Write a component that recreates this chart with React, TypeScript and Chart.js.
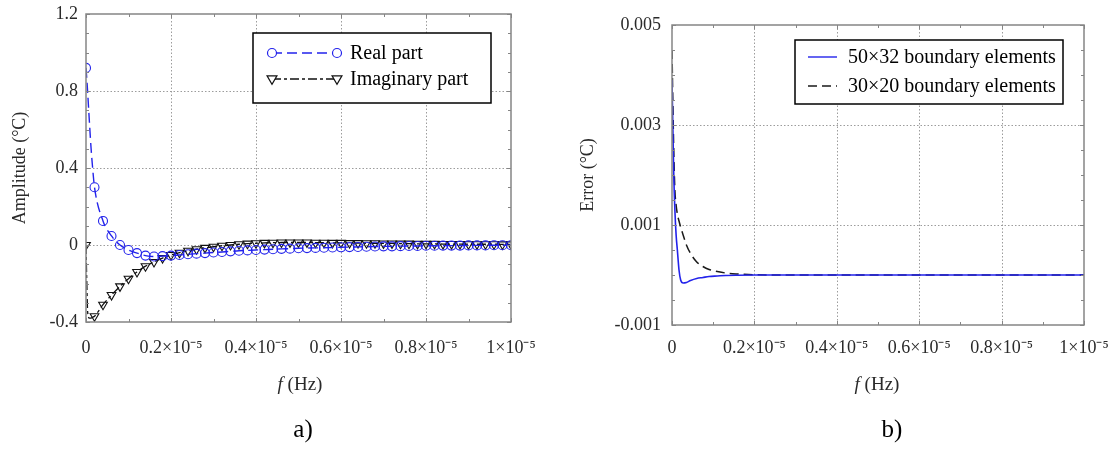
import React, { useEffect, useRef } from 'react';
import { Chart, registerables } from 'chart.js';
Chart.register(...registerables);

const FONT = '"Liberation Serif", "Times New Roman", serif';
const TEXT = '#2a2a2a';

// ---------- Panel a) ----------
const freqA = [0, 0.002, 0.004, 0.008, 0.012, 0.016,
  0.02, 0.04, 0.06, 0.08, 0.10, 0.12, 0.14, 0.16, 0.18, 0.20,
  0.22, 0.24, 0.26, 0.28, 0.30, 0.32, 0.34, 0.36, 0.38, 0.40,
  0.42, 0.44, 0.46, 0.48, 0.50, 0.52, 0.54, 0.56, 0.58, 0.60,
  0.62, 0.64, 0.66, 0.68, 0.70, 0.72, 0.74, 0.76, 0.78, 0.80,
  0.82, 0.84, 0.86, 0.88, 0.90, 0.92, 0.94, 0.96, 0.98, 1.00];
const realA = [0.92, 0.86, 0.79, 0.64, 0.50, 0.39,
  0.30, 0.125, 0.047, 0.0, -0.026, -0.042, -0.055, -0.06, -0.058, -0.055,
  -0.052, -0.048, -0.045, -0.042, -0.039, -0.036, -0.033, -0.030, -0.028, -0.026,
  -0.024, -0.022, -0.020, -0.019, -0.017, -0.016, -0.015, -0.014, -0.013, -0.012,
  -0.011, -0.010, -0.009, -0.008, -0.007, -0.007, -0.006, -0.005, -0.005, -0.004,
  -0.004, -0.003, -0.003, -0.003, -0.002, -0.002, -0.002, -0.001, -0.001, -0.001];
const imagA = [0, -0.2, -0.35, -0.38, -0.38, -0.375,
  -0.37, -0.31, -0.26, -0.215, -0.175, -0.14, -0.11, -0.088, -0.068, -0.052,
  -0.04, -0.03, -0.022, -0.015, -0.009, -0.004, 0.0, 0.004, 0.007, 0.009,
  0.011, 0.012, 0.013, 0.013, 0.013, 0.013, 0.012, 0.012, 0.011, 0.011,
  0.010, 0.010, 0.009, 0.009, 0.008, 0.008, 0.007, 0.007, 0.006, 0.006,
  0.006, 0.005, 0.005, 0.005, 0.004, 0.004, 0.004, 0.004, 0.003, 0.003];
const xTicksA = [0, 0.2, 0.4, 0.6, 0.8, 1.0];
const xMinorA = [0.1, 0.3, 0.5, 0.7, 0.9];
const yTicksA = [-0.4, 0, 0.4, 0.8, 1.2];
const yMinorA = [-0.3, -0.2, -0.1, 0.1, 0.2, 0.3, 0.5, 0.6, 0.7, 0.9, 1.0, 1.1];
const seriesNamesA = ['Real part', 'Imaginary part'];

// ---------- Panel b) ----------
const freqB = [0, 0.002, 0.004, 0.007, 0.01, 0.013, 0.017, 0.021, 0.027, 0.035,
  0.045, 0.06, 0.075, 0.09, 0.11, 0.13, 0.16, 0.2, 0.3, 0.4, 0.5, 0.6, 0.7, 0.8, 0.9, 1.0];
const err50x32 = [0.0039, 0.0030, 0.0021, 0.0013, 0.0008, 0.0005, 0.0001, -0.0001, -0.00016, -0.00015,
  -0.00011, -0.00007, -0.00005, -0.00003, -0.00002, -0.00001, -0.000004, 0, 0, 0, 0, 0, 0, 0, 0, 0];
const err30x20 = [0.0045, 0.0035, 0.0026, 0.0017, 0.0014, 0.00122, 0.00108, 0.00096, 0.0008, 0.0006,
  0.00043, 0.00026, 0.00017, 0.00011, 0.00007, 0.00004, 0.00002, 0.000005, 0, 0, 0, 0, 0, 0, 0, 0];
const xTicksB = [0, 0.2, 0.4, 0.6, 0.8, 1.0];
const xMinorB = [0.1, 0.3, 0.5, 0.7, 0.9];
const yTicksB = [-0.001, 0.001, 0.003, 0.005];
const yMinorB = [-0.0005, 0, 0.0005, 0.0015, 0.002, 0.0025, 0.0035, 0.004, 0.0045];
const seriesNamesB = ['50×32 boundary elements', '30×20 boundary elements'];

const BLUE = 'rgb(35,35,235)';

const fmtX = (v: number) => (v === 0 ? '0' : Math.abs(v - 1) < 1e-9 ? '1×10⁻⁵' : `${v.toFixed(1)}×10⁻⁵`);

function drawMarker(ctx: CanvasRenderingContext2D, kind: string, x: number, y: number, color: string, r: number) {
  ctx.save();
  ctx.setLineDash([]);
  ctx.strokeStyle = color;
  ctx.lineWidth = 1.2;
  ctx.beginPath();
  if (kind === 'circle') {
    ctx.arc(x, y, r, 0, Math.PI * 2);
  } else if (kind === 'tri') {
    ctx.moveTo(x - r * 1.1, y - r * 0.7);
    ctx.lineTo(x + r * 1.1, y - r * 0.7);
    ctx.lineTo(x, y + r * 1.2);
    ctx.closePath();
  }
  ctx.fillStyle = '#fff';
  ctx.fill();
  ctx.stroke();
  ctx.restore();
}

type LegendItem = { label: string; color: string; dash: number[]; marker: string | null };
type Decor = {
  xTicks: number[]; xMinor: number[]; yTicks: number[]; yMinor: number[];
  legendBox: [number, number, number, number];
  rows: number[]; lineX: [number, number]; textX: number; legend: LegendItem[];
  yTitle: string; yTitleX: number; xTitleX: number; caption: string; captionX: number;
};

function decorPlugin(d: Decor) {
  return {
    id: 'decor',
    beforeDatasetsDraw(chart: any) {
      const { ctx, chartArea: a, scales } = chart;
      const x = scales.x, y = scales.y;
      ctx.save();
      ctx.strokeStyle = '#9c9c9c';
      ctx.lineWidth = 1;
      ctx.setLineDash([1.5, 2]);
      d.xTicks.forEach((v) => {
        const px = Math.round(x.getPixelForValue(v)) + 0.5;
        if (px <= a.left + 2 || px >= a.right - 2) return;
        ctx.beginPath(); ctx.moveTo(px, a.top); ctx.lineTo(px, a.bottom); ctx.stroke();
      });
      d.yTicks.forEach((v) => {
        const py = Math.round(y.getPixelForValue(v)) + 0.5;
        if (py <= a.top + 2 || py >= a.bottom - 2) return;
        ctx.beginPath(); ctx.moveTo(a.left, py); ctx.lineTo(a.right, py); ctx.stroke();
      });
      ctx.restore();
    },
    afterDraw(chart: any) {
      const { ctx, chartArea: a, scales } = chart;
      const x = scales.x, y = scales.y;
      ctx.save();
      ctx.setLineDash([]);
      ctx.strokeStyle = '#858585';
      ctx.lineWidth = 1.5;
      ctx.strokeRect(a.left, a.top, a.right - a.left, a.bottom - a.top);
      ctx.lineWidth = 1;
      const tickX = (vals: number[], len: number) => vals.forEach((v) => {
        const px = Math.round(x.getPixelForValue(v)) + 0.5;
        ctx.beginPath();
        ctx.moveTo(px, a.bottom); ctx.lineTo(px, a.bottom - len);
        ctx.moveTo(px, a.top); ctx.lineTo(px, a.top + len);
        ctx.stroke();
      });
      const tickY = (vals: number[], len: number) => vals.forEach((v) => {
        const py = Math.round(y.getPixelForValue(v)) + 0.5;
        ctx.beginPath();
        ctx.moveTo(a.left, py); ctx.lineTo(a.left + len, py);
        ctx.moveTo(a.right, py); ctx.lineTo(a.right - len, py);
        ctx.stroke();
      });
      tickX(d.xTicks, 4); tickX(d.xMinor, 3);
      tickY(d.yTicks, 4); tickY(d.yMinor, 3);

      // legend
      const [bx, by, bw, bh] = d.legendBox;
      ctx.fillStyle = '#fff';
      ctx.fillRect(bx, by, bw, bh);
      ctx.strokeStyle = '#000';
      ctx.lineWidth = 1.5;
      ctx.strokeRect(bx, by, bw, bh);
      d.legend.forEach((it, i) => {
        const ry = d.rows[i];
        ctx.save();
        ctx.strokeStyle = it.color;
        ctx.lineWidth = 1.4;
        ctx.setLineDash(it.dash);
        ctx.beginPath(); ctx.moveTo(d.lineX[0], ry); ctx.lineTo(d.lineX[1], ry); ctx.stroke();
        ctx.restore();
        if (it.marker) {
          drawMarker(ctx, it.marker, d.lineX[0], ry, it.color, 4.5);
          drawMarker(ctx, it.marker, d.lineX[1], ry, it.color, 4.5);
        }
        ctx.fillStyle = '#000';
        ctx.font = `20px ${FONT}`;
        ctx.textAlign = 'left';
        ctx.textBaseline = 'middle';
        ctx.fillText(it.label, d.textX, ry + 1);
      });

      // y title
      ctx.fillStyle = TEXT;
      ctx.save();
      ctx.translate(d.yTitleX, (a.top + a.bottom) / 2);
      ctx.rotate(-Math.PI / 2);
      ctx.font = `18px ${FONT}`;
      ctx.textAlign = 'center';
      ctx.textBaseline = 'middle';
      ctx.fillText(d.yTitle, 0, 0);
      ctx.restore();

      // x title: italic f + (Hz)
      ctx.textBaseline = 'middle';
      ctx.textAlign = 'left';
      ctx.font = `italic 19px ${FONT}`;
      const wf = ctx.measureText('f').width;
      ctx.font = `19px ${FONT}`;
      const wr = ctx.measureText(' (Hz)').width;
      const sx = d.xTitleX - (wf + wr) / 2;
      ctx.font = `italic 19px ${FONT}`;
      ctx.fillText('f', sx, 385);
      ctx.font = `19px ${FONT}`;
      ctx.fillText(' (Hz)', sx + wf, 385);

      // caption
      ctx.fillStyle = '#000';
      ctx.font = `25px ${FONT}`;
      ctx.textAlign = 'center';
      ctx.fillText(d.caption, d.captionX, 430);
      ctx.restore();
    },
  };
}

function scalesFor(opts: {
  xTicks: number[]; yTicks: number[]; yMin: number; yMax: number; yWidth: number; xHeight: number;
  yPad: number; xPad: number; yFmt: (v: number) => string;
}) {
  return {
    x: {
      type: 'linear', min: 0, max: 1,
      grid: { display: false, drawTicks: false },
      border: { display: false },
      afterBuildTicks: (s: any) => { s.ticks = opts.xTicks.map((v) => ({ value: v })); },
      afterFit: (s: any) => { s.height = opts.xHeight; s.paddingLeft = 0; s.paddingRight = 0; },
      ticks: {
        autoSkip: false, maxRotation: 0, minRotation: 0, padding: opts.xPad,
        color: TEXT, font: { family: FONT, size: 18 },
        callback: (v: any) => fmtX(Number(v)),
      },
    },
    y: {
      type: 'linear', min: opts.yMin, max: opts.yMax,
      grid: { display: false, drawTicks: false },
      border: { display: false },
      afterBuildTicks: (s: any) => { s.ticks = opts.yTicks.map((v) => ({ value: v })); },
      afterFit: (s: any) => { s.width = opts.yWidth; s.paddingTop = 0; s.paddingBottom = 0; },
      ticks: {
        autoSkip: false, padding: opts.yPad,
        color: TEXT, font: { family: FONT, size: 18 },
        callback: (v: any) => opts.yFmt(Number(v)),
      },
    },
  };
}

const isMarker = (f: number) => Math.abs(f * 50 - Math.round(f * 50)) < 1e-6;

function buildA(): any {
  return {
    type: 'line',
    data: {
      datasets: [
        {
          label: seriesNamesA[0],
          data: freqA.map((f, i) => ({ x: f, y: realA[i] })),
          borderColor: BLUE, borderWidth: 1.4, borderDash: [10, 5],
          pointStyle: 'circle', pointBorderColor: BLUE, pointBackgroundColor: 'rgba(255,255,255,0)',
          pointBorderWidth: 1.1,
          pointRadius: (c: any) => (isMarker(freqA[c.dataIndex]) ? 4.5 : 0),
          cubicInterpolationMode: 'monotone', fill: false,
        },
        {
          label: seriesNamesA[1],
          data: freqA.map((f, i) => ({ x: f, y: imagA[i] })),
          borderColor: '#111', borderWidth: 1.3, borderDash: [9, 3, 3, 3],
          pointStyle: 'triangle', pointRotation: 180, pointBorderColor: '#111',
          pointBackgroundColor: 'rgba(255,255,255,0)', pointBorderWidth: 1.1,
          pointRadius: (c: any) => (isMarker(freqA[c.dataIndex]) ? 5 : 0),
          cubicInterpolationMode: 'monotone', fill: false,
        },
      ],
    },
    options: {
      responsive: false, animation: false, devicePixelRatio: 1,
      layout: { padding: { left: 0, right: 44, top: 14, bottom: 0 } },
      plugins: { legend: { display: false }, tooltip: { enabled: false } },
      scales: scalesFor({
        xTicks: xTicksA, yTicks: yTicksA, yMin: -0.4, yMax: 1.2, yWidth: 86, xHeight: 128,
        yPad: 8, xPad: 15, yFmt: (v) => (v === 0 ? '0' : v.toFixed(1)),
      }),
    },
    plugins: [decorPlugin({
      xTicks: xTicksA, xMinor: xMinorA, yTicks: yTicksA, yMinor: yMinorA,
      legendBox: [253, 33, 238, 70], rows: [53, 79], lineX: [272, 337], textX: 350,
      legend: [
        { label: seriesNamesA[0], color: BLUE, dash: [10, 5], marker: 'circle' },
        { label: seriesNamesA[1], color: '#111', dash: [9, 3, 3, 3], marker: 'tri' },
      ],
      yTitle: 'Amplitude (°C)', yTitleX: 20, xTitleX: 300, caption: 'a)', captionX: 303,
    })],
  };
}

function buildB(): any {
  return {
    type: 'line',
    data: {
      datasets: [
        {
          label: seriesNamesB[0],
          data: freqB.map((f, i) => ({ x: f, y: err50x32[i] })),
          borderColor: BLUE, borderWidth: 1.6, pointRadius: 0,
          cubicInterpolationMode: 'monotone', fill: false,
        },
        {
          label: seriesNamesB[1],
          data: freqB.map((f, i) => ({ x: f, y: err30x20[i] })),
          borderColor: '#1a1a1a', borderWidth: 1.5, borderDash: [9, 5], pointRadius: 0,
          cubicInterpolationMode: 'monotone', fill: false,
        },
      ],
    },
    options: {
      responsive: false, animation: false, devicePixelRatio: 1,
      layout: { padding: { left: 0, right: 26, top: 25, bottom: 0 } },
      plugins: { legend: { display: false }, tooltip: { enabled: false } },
      scales: scalesFor({
        xTicks: xTicksB, yTicks: yTicksB, yMin: -0.001, yMax: 0.005, yWidth: 117, xHeight: 125,
        yPad: 11, xPad: 12, yFmt: (v) => v.toFixed(3),
      }),
    },
    plugins: [decorPlugin({
      xTicks: xTicksB, xMinor: xMinorB, yTicks: yTicksB, yMinor: yMinorB,
      legendBox: [240, 40, 268, 64], rows: [57, 86], lineX: [253, 282], textX: 293,
      legend: [
        { label: seriesNamesB[0], color: BLUE, dash: [], marker: null },
        { label: seriesNamesB[1], color: '#1a1a1a', dash: [9, 5], marker: null },
      ],
      yTitle: 'Error (°C)', yTitleX: 33, xTitleX: 322, caption: 'b)', captionX: 337,
    })],
  };
}

export default function App() {
  const refA = useRef<HTMLCanvasElement>(null);
  const refB = useRef<HTMLCanvasElement>(null);
  useEffect(() => {
    const a = new Chart(refA.current as HTMLCanvasElement, buildA());
    const b = new Chart(refB.current as HTMLCanvasElement, buildB());
    return () => { a.destroy(); b.destroy(); };
  }, []);
  return (
    <div style={{ position: 'fixed', left: 0, top: 0, width: 1110, height: 450, background: '#fff' }}>
      <canvas ref={refA} width={555} height={450}
        style={{ position: 'absolute', left: 0, top: 0, width: 555, height: 450 }} />
      <canvas ref={refB} width={555} height={450}
        style={{ position: 'absolute', left: 555, top: 0, width: 555, height: 450 }} />
    </div>
  );
}
